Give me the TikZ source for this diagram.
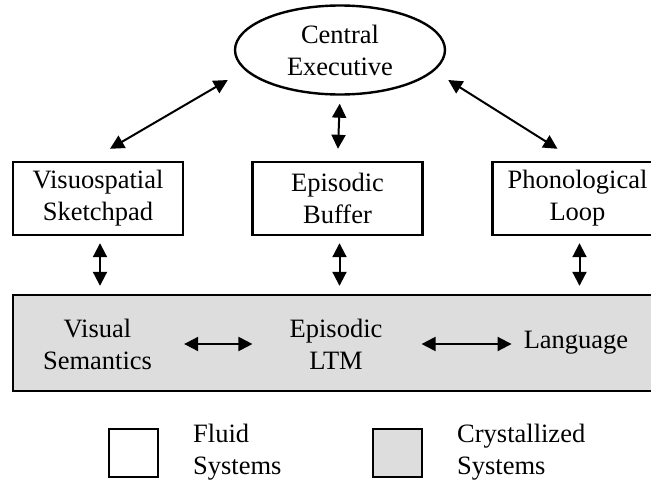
\documentclass[tikz,border=0pt]{standalone}
\usepackage{fontspec}
\setmainfont{Liberation Serif}
\usetikzlibrary{shapes.geometric,arrows.meta}
\definecolor{crystal}{RGB}{221,221,221}
\begin{document}
\begin{tikzpicture}[x=1pt,y=-1pt,
  every node/.style={font=\fontsize{26.5}{32}\selectfont,align=center,inner sep=0pt},
  fluid/.style={draw,line width=2.4pt,minimum width=170pt,minimum height=73pt},
  keybox/.style={draw,line width=2.4pt,minimum width=49pt,minimum height=48pt},
  dbl/.style={{Triangle[length=14pt,width=14pt]}-{Triangle[length=14pt,width=14pt]},line width=2pt}]
\clip (0,0) rectangle (651,482);
% fluid part
\node[ellipse,draw,line width=2.4pt,minimum width=210pt,minimum height=89pt] (ce) at (340,50) {Central\\Executive};
\node[fluid] (vs) at (98,198.5) {Visuospatial\\Sketchpad};
\node[fluid] (eb) at (337.5,198.5) {Episodic\\Buffer};
\node[fluid] (pl) at (577.5,198.5) {Phonological\\Loop};
% crystallized part
\node[draw,fill=crystal,line width=2.4pt,minimum width=660pt,minimum height=96pt] (ltmbox) at (343,343) {};
\node (vsem) at (97.5,344) {Visual\\Semantics};
\node (ltm) at (336,344) {Episodic\\LTM};
\node (lang) at (576,343) {Language};
%\node (ce2) at (340,50) {};
\draw[dbl] ([xshift=12pt,yshift=12pt]vs.north) -- ([xshift=-6pt,yshift=-30pt]ce.west);
\draw[dbl] ([xshift=-20pt,yshift=12pt]pl.north) -- ([xshift=2pt,yshift=-30pt]ce.east);
\draw[dbl,shorten <=8pt,shorten >=12pt] (ce.south) -- (eb.north);
\foreach \a in {vs,eb,pl} {\draw[dbl,shorten <=7pt,shorten >=8pt] ([xshift=2pt]\a.south) -- ([xshift=2pt]\a.south |- ltmbox.north);}
\draw[dbl,shorten <=32pt,shorten >=37pt] (vsem.east) -- (vsem.east -| ltm.west);
\draw[dbl,shorten <=39pt,shorten >=12pt] (ltm.east) -- (ltm.east -| lang.west);
% key
\node[keybox] (kf) at (133.5,453) {};
\node[keybox,fill=crystal] (kc) at (397.5,453) {};
\node[anchor=west,align=left] (kft) at (193,452) {Fluid\\Systems};
\node[anchor=west,align=left] (kct) at (457,452) {Crystallized\\Systems};
\end{tikzpicture}
\end{document}
